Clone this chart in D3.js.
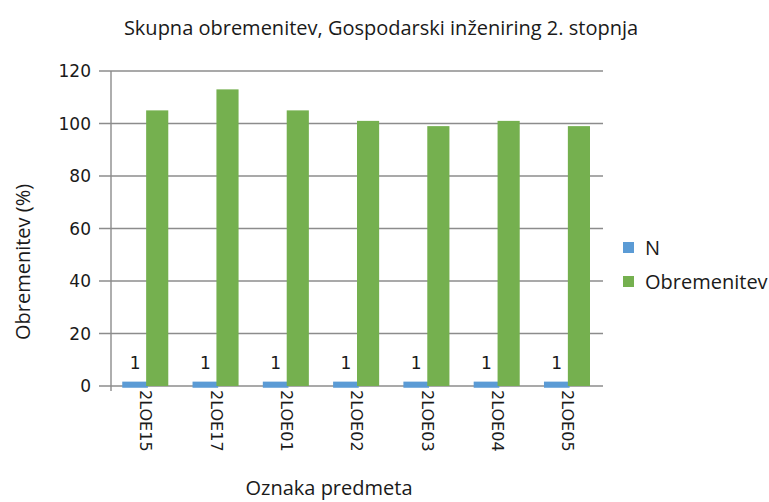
<html>
<head>
<meta charset="utf-8">
<script src="https://cdn.jsdelivr.net/npm/d3@7"></script>
<style>
  body { margin: 0; background: #fff; }
  text { font-family: "Open Sans", "Noto Sans", sans-serif; fill: #1a1a1a; }
  .tick { font-family: "DejaVu Sans", Verdana, sans-serif; }
</style>
</head>
<body>
<script>
var categories = ["2LOE15", "2LOE17", "2LOE01", "2LOE02", "2LOE03", "2LOE04", "2LOE05"];
var nValues = [1, 1, 1, 1, 1, 1, 1];
var loadValues = [105, 113, 105, 101, 99, 101, 99];
var yTicks = [0, 20, 40, 60, 80, 100, 120];
var seriesNames = ["N", "Obremenitev"];
var colors = ["#5b9bd5", "#75b04f"];

var W = 769, H = 502;
var plotLeft = 111, plotRight = 603, plotTop = 71, plotBottom = 386;

var svg = d3.select("body").append("svg").attr("width", W).attr("height", H);

var x = d3.scaleBand().domain(categories).range([plotLeft, plotRight]).paddingInner(0.37).paddingOuter(0.185);
var sub = d3.scaleBand().domain(seriesNames).range([0, x.bandwidth()]);
var y = d3.scaleLinear().domain([0, 120]).range([plotBottom, plotTop]);

// grid + ticks
svg.append("g").selectAll("line").data(yTicks).enter().append("line")
  .attr("x1", plotLeft - 12).attr("x2", plotRight)
  .attr("y1", function(d) { return y(d); }).attr("y2", function(d) { return y(d); })
  .attr("stroke", "#8c8c8c").attr("stroke-width", 1.4);

svg.append("line").attr("x1", plotLeft).attr("x2", plotLeft).attr("y1", plotTop).attr("y2", plotBottom + 5)
  .attr("stroke", "#8c8c8c").attr("stroke-width", 1.4);

// y tick labels
svg.append("g").selectAll("text").data(yTicks).enter().append("text")
  .attr("class", "tick")
  .attr("x", plotLeft - 20).attr("y", function(d) { return y(d); }).attr("dy", "0.36em")
  .attr("text-anchor", "end").style("font-size", "17px")
  .text(function(d) { return d; });

var groups = svg.append("g").selectAll("g").data(categories).enter().append("g")
  .attr("transform", function(d) { return "translate(" + x(d) + ",0)"; });

groups.append("rect")
  .attr("x", sub("N")).attr("width", sub.bandwidth())
  .attr("y", function(d, i) { return y(nValues[i]); })
  .attr("height", function(d, i) { return plotBottom - y(nValues[i]); })
  .attr("fill", colors[0]).attr("stroke", colors[0]).attr("stroke-width", 3.5);

groups.append("rect")
  .attr("x", sub("Obremenitev")).attr("width", sub.bandwidth())
  .attr("y", function(d, i) { return y(loadValues[i]); })
  .attr("height", function(d, i) { return plotBottom - y(loadValues[i]); })
  .attr("fill", colors[1]);

// data labels for N
groups.append("text")
  .attr("class", "tick")
  .attr("x", sub("N") + sub.bandwidth() / 2)
  .attr("y", function(d, i) { return y(nValues[i]) - 14; })
  .attr("text-anchor", "middle").style("font-size", "17px")
  .text(function(d, i) { return nValues[i]; });

// x tick labels rotated
groups.append("text")
  .attr("class", "tick")
  .attr("transform", "translate(" + (x.bandwidth() / 2) + "," + (plotBottom + 4) + ") rotate(90)")
  .attr("dy", "0.36em").style("font-size", "16px")
  .text(function(d) { return d; });

// titles
svg.append("text").attr("x", 381).attr("y", 35).attr("text-anchor", "middle")
  .style("font-size", "20px").text("Skupna obremenitev, Gospodarski inženiring 2. stopnja");
svg.append("text").attr("transform", "translate(30,262) rotate(-90)")
  .attr("text-anchor", "middle").style("font-size", "20px").text("Obremenitev (%)");
svg.append("text").attr("x", 329).attr("y", 495).attr("text-anchor", "middle")
  .style("font-size", "20px").text("Oznaka predmeta");

// legend
var leg = svg.append("g").selectAll("g").data(seriesNames).enter().append("g")
  .attr("transform", function(d, i) { return "translate(623," + (242 + i * 34) + ")"; });
leg.append("rect").attr("width", 11).attr("height", 11)
  .attr("fill", function(d, i) { return colors[i]; });
leg.append("text").attr("x", 22).attr("y", 5.5).attr("dy", "0.35em")
  .style("font-size", "20px").text(function(d) { return d; });
</script>
</body>
</html>
